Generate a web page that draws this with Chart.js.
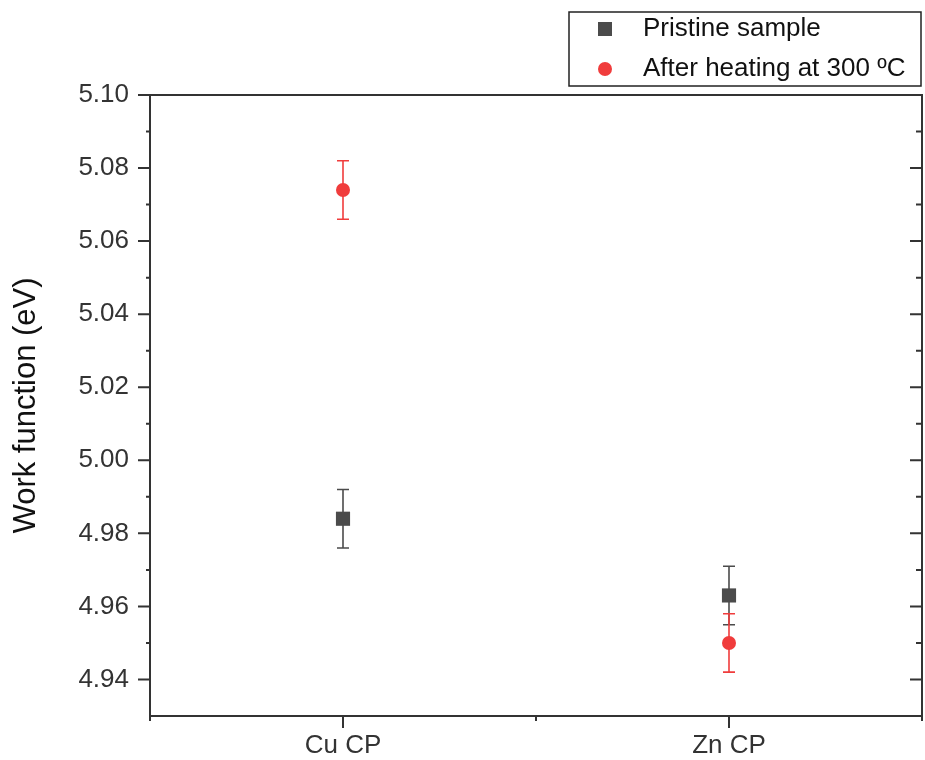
<!DOCTYPE html>
<html>
<head>
<meta charset="utf-8">
<script src="https://cdn.jsdelivr.net/npm/chart.js@4.4.0/dist/chart.umd.min.js"></script>
<style>
  html, body { margin: 0; padding: 0; background: #fff; }
</style>
</head>
<body>
<canvas id="chart" width="925" height="760"></canvas>
<script>
// Data
const categories = ['Cu CP', 'Zn CP'];
const pristine = [4.984, 4.963];
const pristineErr = [0.008, 0.008];
const heated = [5.074, 4.950];
const heatedErr = [0.008, 0.008];
const yTicks = [4.94, 4.96, 4.98, 5.00, 5.02, 5.04, 5.06, 5.08, 5.10];
const yMinor = [4.95, 4.97, 4.99, 5.01, 5.03, 5.05, 5.07, 5.09];

const AXIS = '#333333';
const GREY = '#4b4b4b';
const RED = '#f03c3c';
const FONT = '"Liberation Sans", Arial, sans-serif';

// Error bars drawn under the markers
const errorBars = {
  id: 'errorBars',
  beforeDatasetsDraw(chart) {
    const ctx = chart.ctx;
    const xs = chart.scales.x, ys = chart.scales.y;
    chart.data.datasets.forEach(ds => {
      ctx.save();
      ctx.strokeStyle = ds.errorColor;
      ctx.lineWidth = 1.6;
      ds.data.forEach((v, j) => {
        const x = xs.getPixelForValue(j);
        const top = ys.getPixelForValue(v + ds.errors[j]);
        const bot = ys.getPixelForValue(v - ds.errors[j]);
        ctx.beginPath();
        ctx.moveTo(x, top); ctx.lineTo(x, bot);
        ctx.moveTo(x - 6, top); ctx.lineTo(x + 6, top);
        ctx.moveTo(x - 6, bot); ctx.lineTo(x + 6, bot);
        ctx.stroke();
      });
      ctx.restore();
    });
  }
};

// Box frame plus major/minor tick marks (Origin style)
const frameTicks = {
  id: 'frameTicks',
  afterDraw(chart) {
    const ctx = chart.ctx;
    const a = chart.chartArea;
    const xs = chart.scales.x, ys = chart.scales.y;
    ctx.save();
    ctx.strokeStyle = AXIS;
    ctx.lineWidth = 2;
    ctx.strokeRect(a.left, a.top, a.right - a.left, a.bottom - a.top);
    ctx.beginPath();
    yTicks.forEach(v => {
      const y = ys.getPixelForValue(v);
      ctx.moveTo(a.left - 12, y); ctx.lineTo(a.left, y);
      ctx.moveTo(a.right - 12, y); ctx.lineTo(a.right, y);
    });
    yMinor.forEach(v => {
      const y = ys.getPixelForValue(v);
      ctx.moveTo(a.left - 4, y); ctx.lineTo(a.left, y);
      ctx.moveTo(a.right - 6, y); ctx.lineTo(a.right, y);
    });
    categories.forEach((c, i) => {
      const x = xs.getPixelForValue(i);
      ctx.moveTo(x, a.bottom); ctx.lineTo(x, a.bottom + 12);
    });
    [-0.5, 0.5, 1.5].forEach(v => {
      const x = xs.getPixelForValue(v);
      ctx.moveTo(x, a.bottom); ctx.lineTo(x, a.bottom + 5);
    });
    ctx.stroke();
    ctx.restore();
  }
};

// Boxed legend in the top right corner
const boxLegend = {
  id: 'boxLegend',
  afterDraw(chart) {
    const ctx = chart.ctx;
    ctx.save();
    ctx.strokeStyle = '#222';
    ctx.lineWidth = 1.5;
    ctx.strokeRect(569, 12, 352, 74);
    ctx.font = '26px ' + FONT;
    ctx.textBaseline = 'middle';
    ctx.fillStyle = '#111';
    chart.data.datasets.forEach((ds, i) => {
      const y = 29 + i * 40;
      ctx.save();
      ctx.fillStyle = ds.backgroundColor;
      if (ds.pointStyle === 'rect') {
        ctx.fillRect(605 - 7, y - 7, 14, 14);
      } else {
        ctx.beginPath();
        ctx.arc(605, y, 7, 0, Math.PI * 2);
        ctx.fill();
      }
      ctx.restore();
      ctx.fillText(ds.label, 643, y);
    });
    ctx.restore();
  }
};

new Chart(document.getElementById('chart').getContext('2d'), {
  type: 'line',
  data: {
    labels: categories,
    datasets: [
      {
        label: 'Pristine sample',
        data: pristine,
        errors: pristineErr,
        errorColor: GREY,
        showLine: false,
        pointStyle: 'rect',
        pointRadius: 10,
        backgroundColor: GREY,
        borderColor: GREY,
        borderWidth: 0
      },
      {
        label: 'After heating at 300 ºC',
        data: heated,
        errors: heatedErr,
        errorColor: RED,
        showLine: false,
        pointStyle: 'circle',
        pointRadius: 7,
        backgroundColor: RED,
        borderColor: RED,
        borderWidth: 0
      }
    ]
  },
  options: {
    responsive: false,
    animation: false,
    layout: { autoPadding: false, padding: { top: 95, right: 3, left: 0, bottom: 0 } },
    plugins: {
      legend: { display: false },
      tooltip: { enabled: false }
    },
    scales: {
      x: {
        type: 'category',
        offset: true,
        afterFit: s => { s.height = 44; },
        grid: { drawOnChartArea: false, tickLength: 12, tickColor: 'transparent' },
        border: { display: false },
        ticks: { color: AXIS, font: { family: FONT, size: 26 }, padding: 2 }
      },
      y: {
        type: 'linear',
        min: 4.93,
        max: 5.10,
        afterFit: s => { s.width = 150; },
        afterBuildTicks: s => { s.ticks = yTicks.map(v => ({ value: v })); },
        grid: { drawOnChartArea: false, tickLength: 12, tickColor: 'transparent' },
        border: { display: false },
        ticks: {
          color: AXIS,
          font: { family: FONT, size: 26 },
          padding: 9,
          callback: v => Number(v).toFixed(2)
        },
        title: {
          display: true,
          text: 'Work function (eV)',
          color: '#111',
          font: { family: FONT, size: 31 },
          padding: { top: 8, bottom: 0 }
        }
      }
    }
  },
  plugins: [errorBars, frameTicks, boxLegend]
});
</script>
</body>
</html>
